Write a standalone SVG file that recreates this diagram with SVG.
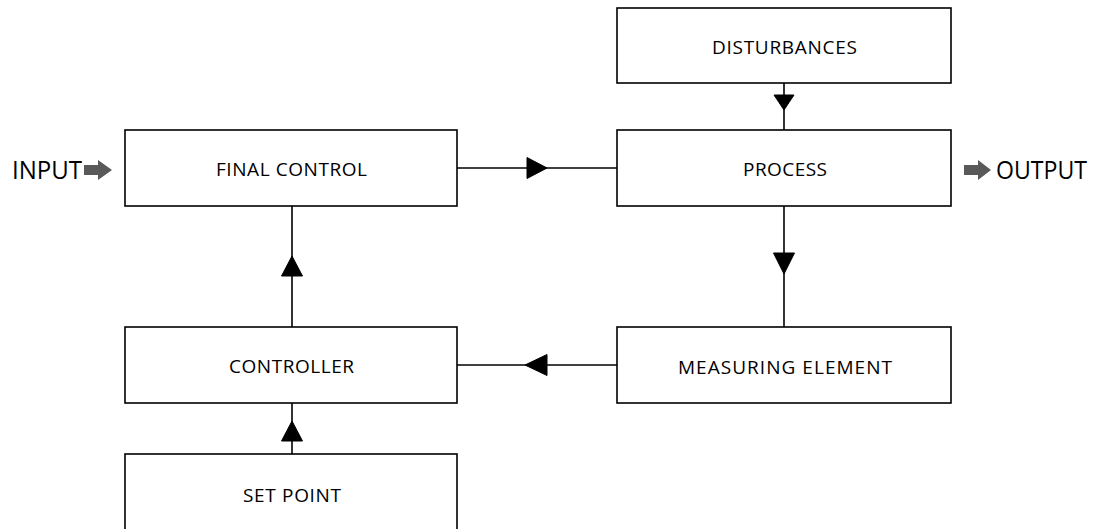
<svg xmlns="http://www.w3.org/2000/svg" width="1105" height="529" viewBox="0 0 1105 529">
<style>
.box{fill:#fff;stroke:#000;stroke-width:1.6}
.lbl{font-family:"Open Sans","Liberation Sans",Arial,sans-serif;font-size:19px;fill:#000}
.big{font-family:"Open Sans","Liberation Sans",Arial,sans-serif;font-size:26px;fill:#000}
.ln{stroke:#000;stroke-width:1.6;fill:none}
.ah{fill:#000;stroke:#000;stroke-width:1}
.io{fill:#595959}
</style>
<rect width="1105" height="529" fill="#fff"/>
<g id="connectors">
<line class="ln" x1="457" y1="168" x2="617" y2="168"/>
<polygon class="ah" points="527,157.5 547,168 527,178.5"/>
<line class="ln" x1="784" y1="83" x2="784" y2="130"/>
<polygon class="ah" points="774,95 794,95 784,110"/>
<line class="ln" x1="784" y1="206" x2="784" y2="327"/>
<polygon class="ah" points="773.5,253 794.5,253 784,274"/>
<line class="ln" x1="617" y1="365" x2="457" y2="365"/>
<polygon class="ah" points="547,354.5 525,365 547,375.5"/>
<line class="ln" x1="292" y1="327" x2="292" y2="206"/>
<polygon class="ah" points="281.5,276 302.5,276 292,256"/>
<line class="ln" x1="292" y1="454" x2="292" y2="403"/>
<polygon class="ah" points="281.5,441 302.5,441 292,421"/>
</g>
<g id="input">
<text class="big" x="12" y="179" textLength="70" lengthAdjust="spacingAndGlyphs">INPUT</text>
<polygon class="io" points="84,165 98,165 98,160 112,170 98,180 98,175 84,175"/>
</g>
<g id="output">
<polygon class="io" points="964,165 978,165 978,160 991,170 978,180 978,175 964,175"/>
<text class="big" x="996" y="179" textLength="91" lengthAdjust="spacingAndGlyphs">OUTPUT</text>
</g>
<g id="final-control">
<rect class="box" x="125" y="130" width="332" height="76"/>
<text class="lbl" x="216" y="176" textLength="151" lengthAdjust="spacing">FINAL CONTROL</text>
</g>
<g id="disturbances">
<rect class="box" x="617" y="8" width="334" height="75"/>
<text class="lbl" x="712" y="54" textLength="145" lengthAdjust="spacing">DISTURBANCES</text>
</g>
<g id="process">
<rect class="box" x="617" y="130" width="334" height="76"/>
<text class="lbl" x="743" y="176" textLength="84" lengthAdjust="spacing">PROCESS</text>
</g>
<g id="measuring-element">
<rect class="box" x="617" y="327" width="334" height="76"/>
<text class="lbl" x="678" y="374" textLength="214" lengthAdjust="spacing">MEASURING ELEMENT</text>
</g>
<g id="controller">
<rect class="box" x="125" y="327" width="332" height="76"/>
<text class="lbl" x="229" y="373" textLength="125" lengthAdjust="spacing">CONTROLLER</text>
</g>
<g id="set-point">
<rect class="box" x="125" y="454" width="332" height="90"/>
<text class="lbl" x="243" y="502" textLength="98" lengthAdjust="spacing">SET POINT</text>
</g>
</svg>
